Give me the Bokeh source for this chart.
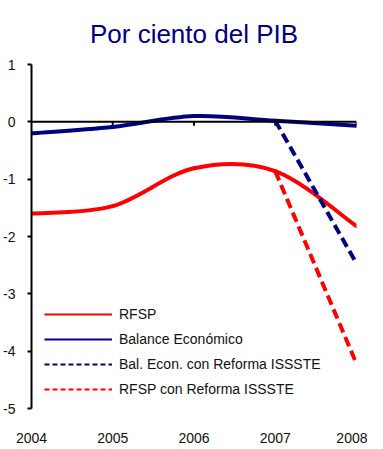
from bokeh.plotting import figure
from bokeh.models import Range1d, FixedTicker, Span, Legend, LegendItem
from bokeh.embed import file_html
from bokeh.resources import INLINE

# ---- data ----
years = [2004, 2005, 2006, 2007, 2008]
year_labels = ["2004", "2005", "2006", "2007", "2008"]
rfsp = [-1.60, -1.47, -0.81, -0.86, -1.82]
balance = [-0.20, -0.09, 0.10, 0.02, -0.07]
reform_years = [2007, 2008]
bal_reforma = [0.02, -2.47]
rfsp_reforma = [-0.86, -4.22]
y_ticks = [1, 0, -1, -2, -3, -4, -5]
y_tick_labels = ["1", "0", "-1", "-2", "-3", "-4", "-5"]
title_text = "Por ciento del PIB"

RED = "#FF0000"
NAVY = "#000080"
FONT = "Liberation Sans"


def smooth_segments(xs, ys):
    """Excel-style smoothed line: cubic Bezier segments between data points."""
    n = len(xs)
    out = dict(x0=[], y0=[], x1=[], y1=[], cx0=[], cy0=[], cx1=[], cy1=[])
    for i in range(n - 1):
        ip = max(i - 1, 0)
        inn = min(i + 2, n - 1)
        out["x0"].append(xs[i]); out["y0"].append(ys[i])
        out["x1"].append(xs[i + 1]); out["y1"].append(ys[i + 1])
        out["cx0"].append(xs[i] + (xs[i + 1] - xs[ip]) / 6)
        out["cy0"].append(ys[i] + (ys[i + 1] - ys[ip]) / 6)
        out["cx1"].append(xs[i + 1] - (xs[inn] - xs[i]) / 6)
        out["cy1"].append(ys[i + 1] - (ys[inn] - ys[i]) / 6)
    return out


p = figure(frame_width=325, frame_height=344, output_backend="svg", toolbar_location=None,
           x_range=Range1d(2004, 2008), y_range=Range1d(-5, 1),
           min_border_left=31, min_border_right=11, min_border_top=64, min_border_bottom=41)

p.title.text = title_text
p.title.align = "center"
p.title.text_font = FONT
p.title.text_font_size = "26px"
p.title.text_font_style = "normal"
p.title.text_color = NAVY
p.title.offset = -5
p.title.standoff = 32

p.outline_line_color = None
p.xgrid.grid_line_color = None
p.ygrid.grid_line_color = None
p.background_fill_color = None
p.border_fill_color = "white"

# y axis
p.yaxis.ticker = FixedTicker(ticks=y_ticks)
p.yaxis.major_label_overrides = {t: l for t, l in zip(y_ticks, y_tick_labels)}
p.yaxis.axis_line_width = 2
p.yaxis.axis_line_color = "black"
p.yaxis.major_tick_out = 4
p.yaxis.major_tick_in = 0
p.yaxis.major_tick_line_width = 2
p.yaxis.minor_tick_line_color = None
p.yaxis.major_label_text_font = FONT
p.yaxis.major_label_text_font_size = "14px"
p.yaxis.major_label_text_color = "#111111"
p.yaxis.major_label_standoff = 12

# x axis (labels only)
p.xaxis.ticker = FixedTicker(ticks=years)
p.xaxis.major_label_overrides = {y: l for y, l in zip(years, year_labels)}
p.xaxis.axis_line_color = None
p.xaxis.major_tick_line_color = None
p.xaxis.major_tick_out = 0
p.xaxis.major_tick_in = 0
p.xaxis.minor_tick_line_color = None
p.xaxis.major_label_text_font = FONT
p.xaxis.major_label_text_font_size = "14px"
p.xaxis.major_label_text_color = "#111111"
p.xaxis.major_label_standoff = 24

# zero line with downward ticks
p.add_layout(Span(location=0, dimension="width", line_color="black", line_width=2))
p.segment(x0=years[1:], y0=[0] * 4, x1=years[1:], y1=[-0.07] * 4,
          line_color="black", line_width=2)

# series
r_seg = smooth_segments(years, rfsp)
b_seg = smooth_segments(years, balance)
p.bezier(source=b_seg, x0="x0", y0="y0", x1="x1", y1="y1", cx0="cx0", cy0="cy0",
         cx1="cx1", cy1="cy1", line_color=NAVY, line_width=4, line_cap="round")
p.bezier(source=r_seg, x0="x0", y0="y0", x1="x1", y1="y1", cx0="cx0", cy0="cy0",
         cx1="cx1", cy1="cy1", line_color=RED, line_width=4, line_cap="round")
p.line(reform_years, bal_reforma, line_color=NAVY, line_width=4, line_dash="10 5")
p.line(reform_years, rfsp_reforma, line_color=RED, line_width=4, line_dash="10 5")

# legend samples (thinner lines as in the reference) on an off-screen range
p.extra_y_ranges = {"legend": Range1d(100, 101)}
l1 = p.line(years, rfsp, line_color=RED, line_width=2, y_range_name="legend")
l2 = p.line(years, balance, line_color=NAVY, line_width=2, y_range_name="legend")
l3 = p.line(reform_years, bal_reforma, line_color=NAVY, line_width=2, line_dash="5 3",
            y_range_name="legend")
l4 = p.line(reform_years, rfsp_reforma, line_color=RED, line_width=2, line_dash="5 3",
            y_range_name="legend")

legend = Legend(items=[
    LegendItem(label="RFSP", renderers=[l1]),
    LegendItem(label="Balance Económico", renderers=[l2]),
    LegendItem(label="Bal. Econ. con Reforma ISSSTE", renderers=[l3]),
    LegendItem(label="RFSP con Reforma ISSSTE", renderers=[l4]),
], location=(13, 9))
legend.border_line_color = None
legend.background_fill_alpha = 0
legend.padding = 0
legend.margin = 0
legend.spacing = 5
legend.glyph_width = 68
legend.glyph_height = 20
legend.label_height = 20
legend.label_standoff = 7
legend.label_text_font = FONT
legend.label_text_font_size = "14px"
legend.label_text_color = "#111111"
p.add_layout(legend, "center")

open("out.html", "w").write(file_html(p, INLINE))
